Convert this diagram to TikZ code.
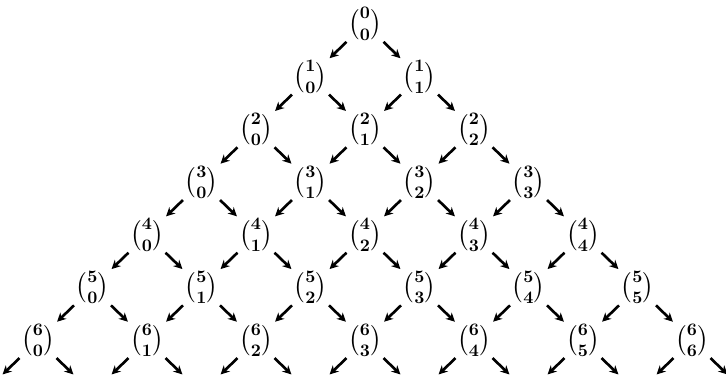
\documentclass[tikz,border=0pt]{standalone}
\usepackage{amsmath}
\usetikzlibrary{calc,arrows.meta}
\begin{document}
\begin{tikzpicture}[x=0.02cm, y=-0.02cm]
    \tikzset{
        binom/.style={font=\Large\boldmath, inner sep=0pt},
        arr/.style={-{Stealth[length=5pt,width=5pt]}, line width=1.5pt}
    }
    % 画布边框
    \useasboundingbox (0,0) rectangle (726,377);
    \clip (0,0) rectangle (726,377);

    % 二项式系数
    \foreach \n in {0,...,6} {
        \foreach \k in {0,...,\n} {
            \node[binom] (b\n-\k) at ({365+(2*\k-\n)*54.5}, {24+52.7*\n}) {$\tbinom{\n}{\k}$};
        }
    }
    % 第7行 (画面外)
    \foreach \k in {0,...,7} {
        \coordinate (b7-\k) at ({365+(2*\k-7)*54.5}, {24+52.7*7});
    }

    % 箭头
    \foreach \n in {0,...,6} {
        \pgfmathtruncatemacro\m{\n+1}
        \foreach \k in {0,...,\n} {
            \pgfmathtruncatemacro\j{\k+1}
            \draw[arr] ($(b\n-\k)!.34!(b\m-\k)$) -- ($(b\n-\k)!.65!(b\m-\k)$);
            \draw[arr] ($(b\n-\k)!.34!(b\m-\j)$) -- ($(b\n-\k)!.65!(b\m-\j)$);
        }
    }
\end{tikzpicture}
\end{document}
